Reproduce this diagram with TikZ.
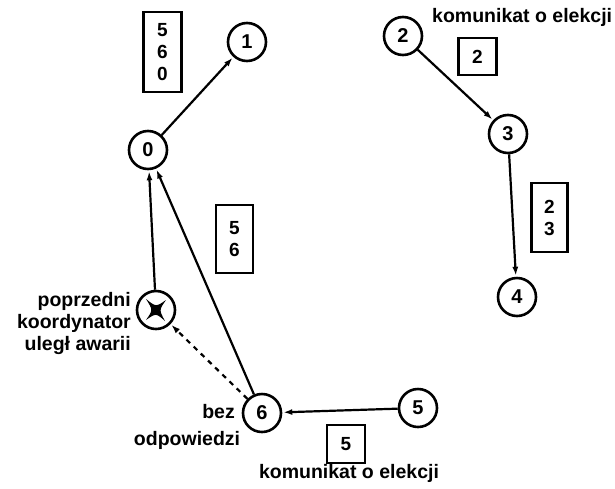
\documentclass[tikz,border=0pt]{standalone}
\usepackage{fontspec}
\setmainfont{Liberation Sans}
\usetikzlibrary{arrows.meta}
\begin{document}
\begin{tikzpicture}[x=1pt,y=-1pt,
  proc/.style={circle,draw,line width=2.6pt,minimum size=38pt,inner sep=0pt,font=\fontsize{20}{20}\selectfont\bfseries},
  msgbox/.style={draw,line width=2.2pt,inner sep=0pt,align=center,font=\fontsize{19}{22}\selectfont\bfseries},
  lbl/.style={font=\fontsize{19.5}{22}\selectfont\bfseries,inner sep=0pt},
  arr/.style={line width=2.2pt,-{Latex[length=9pt,width=6pt]},shorten >=1pt}]
\useasboundingbox (0,0) rectangle (615,488);
% processes
\node[proc] (n1) at (247,42) {1};
\node[proc] (n0) at (148,150) {0};
\node[proc] (n2) at (403,36) {2};
\node[proc] (n3) at (508,134) {3};
\node[proc] (n4) at (517,297) {4};
\node[proc] (nx) at (156,310) {};
\node[proc] (n6) at (262,413) {6};
\node[proc] (n5) at (418,408) {5};
\fill (146,299) .. controls (156,307) .. (166,300) .. controls (159,310) .. (165,321) .. controls (156,313) .. (146,320) .. controls (153,310) .. cycle;
% message boxes
\node[msgbox,minimum width=38pt,minimum height=80pt] (b560) at (162.5,52) {5\\6\\0};
\node[msgbox,minimum width=38pt,minimum height=37pt] (b2) at (477.5,56.5) {2};
\node[msgbox,minimum width=36pt,minimum height=69pt] (b23) at (549.5,217.5) {2\\3};
\node[msgbox,minimum width=37pt,minimum height=68pt] (b56) at (234.5,239) {5\\6};
\node[msgbox,minimum width=38pt,minimum height=38pt] (b5) at (346,444) {5};
% labels
\node[lbl,anchor=west] (t1) at (432,17) {komunikat o elekcji};
\node[lbl] (t2) at (349,473) {komunikat o elekcji};
\node[lbl,anchor=east,align=right] (t3) at (131,323) {poprzedni\\koordynator\\uległ awarii};
\node[lbl,anchor=east] (t4) at (235,412) {bez};
\node[lbl] (t5) at (187,440) {odpowiedzi};
% connectors
\draw[arr] (n0) -- (n1);
\draw[arr] (n2) -- (n3);
\draw[arr] (n3) -- (n4);
\draw[arr] (nx) -- (n0);
\draw[arr] (n6) -- (n0);
\draw[arr,dash pattern=on 5pt off 5pt] (n6) -- (nx);
\draw[arr] (n5) -- (n6);
\end{tikzpicture}
\end{document}
